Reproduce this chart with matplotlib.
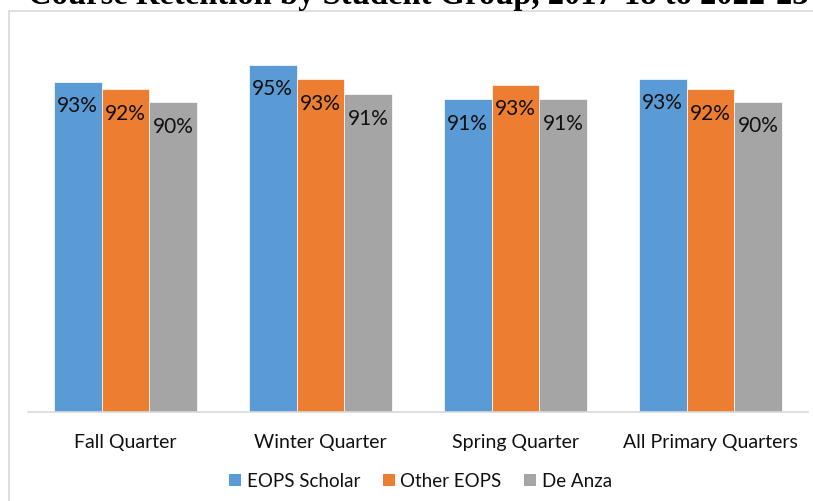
import matplotlib
matplotlib.use("Agg")
import matplotlib.pyplot as plt
import numpy as np
from matplotlib.patches import Rectangle, Patch

categories = ["Fall Quarter", "Winter Quarter", "Spring Quarter", "All Primary Quarters"]
series_names = ["EOPS Scholar", "Other EOPS", "De Anza"]
eops_scholar = [0.930, 0.952, 0.907, 0.934]
other_eops = [0.920, 0.933, 0.926, 0.920]
de_anza = [0.903, 0.914, 0.907, 0.904]
title = "Course Retention by Student Group, 2017-18 to 2022-23"

colors = ["#5B9BD5", "#ED7D31", "#A5A5A5"]
W, H = 813, 502
fig = plt.figure(figsize=(W / 100, H / 100), dpi=100)
plt.rcParams['font.family'] = ['Lato', 'DejaVu Sans']

# chart frame
fig.patches.append(Rectangle((8.5 / W, -0.2), 2.0, 1.2 - 11.5 / H, transform=fig.transFigure,
                             facecolor="none", edgecolor="#d9d9d9", lw=1.2))

ax = fig.add_axes([28 / W, 1 - 413.3 / H, 780 / W, (413.3 - 28.8) / H])
ax.set_facecolor("none")
x = np.arange(len(categories))
bw = 0.245
for i, (vals, c) in enumerate(zip([eops_scholar, other_eops, de_anza], colors)):
    xs = x + (i - 1) * bw
    ax.bar(xs, vals, width=bw, color=c, edgecolor="white", linewidth=0.5, zorder=2)
    for xi, v in zip(xs, vals):
        ax.annotate(f"{v:.0%}", (xi, v), xytext=(0, -17), textcoords="offset points",
                    ha="center", va="center", fontsize=15, color="#111111")

ax.set_ylim(0.5, 1.0)
ax.set_xlim(-0.5, len(categories) - 0.5)
ax.set_xticks(x)
ax.set_xticklabels(categories, fontsize=14, color="#111111")
ax.tick_params(axis="x", length=0, pad=15)
ax.set_yticks([])
for s in ["left", "right", "top"]:
    ax.spines[s].set_visible(False)
ax.spines["bottom"].set_color("#d9d9d9")
ax.spines["bottom"].set_linewidth(1.2)

handles = [Patch(facecolor=c, edgecolor="none") for c in colors]
fig.legend(handles, series_names, loc="center", bbox_to_anchor=(420.5 / W, 1 - 482 / H),
           ncol=3, frameon=False, fontsize=13.5, handlelength=0.65, handleheight=0.65,
           handletextpad=0.3, columnspacing=1.2, labelcolor="#111111")

fig.text(28 / W, 1 - 4 / H, title, ha="left", va="baseline", fontsize=23.5,
         fontweight="bold", family=["Liberation Serif", "DejaVu Serif"])

fig.savefig("out.png", dpi=100)
